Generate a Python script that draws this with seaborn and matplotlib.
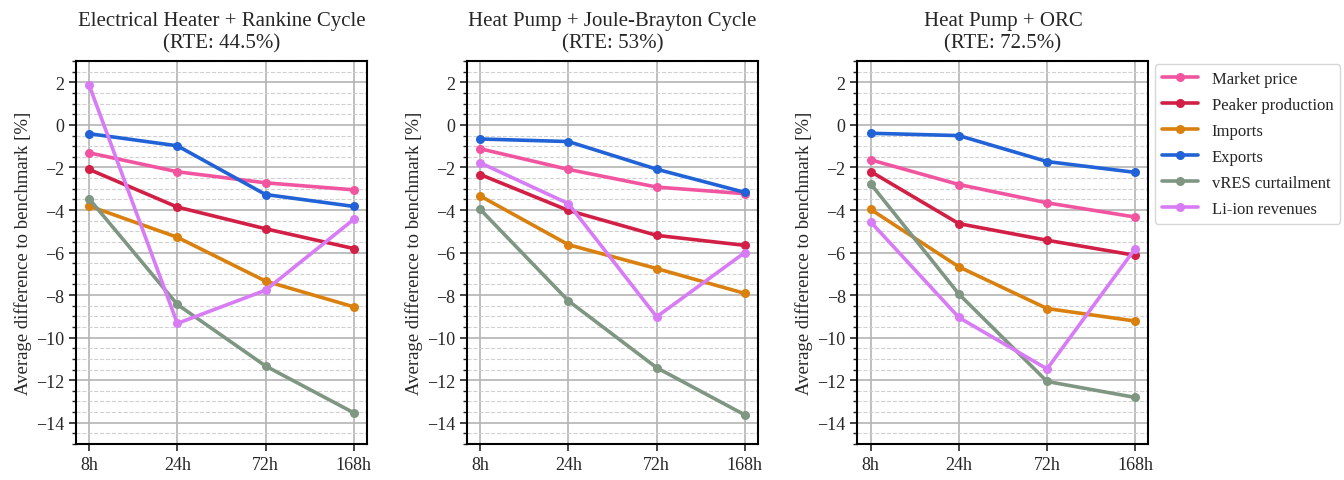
import matplotlib
matplotlib.use("Agg")
import matplotlib.pyplot as plt
import matplotlib.ticker as mticker
import seaborn as sns
import pandas as pd

# duraciones de almacenamiento
durations = ["8h", "24h", "72h", "168h"]
series_names = ["Market price", "Peaker production", "Imports", "Exports",
                "vRES curtailment", "Li-ion revenues"]
colors = ["#f2559f", "#d11f45", "#d9800f", "#2163d6", "#7f9683", "#d87cf6"]

titles = ["Electrical Heater + Rankine Cycle\n(RTE: 44.5%)",
          "Heat Pump + Joule-Brayton Cycle\n(RTE: 53%)",
          "Heat Pump + ORC\n(RTE: 72.5%)"]

# Electrical Heater + Rankine
eh_market = [-1.31, -2.20, -2.72, -3.05]
eh_peaker = [-2.09, -3.86, -4.88, -5.81]
eh_imports = [-3.81, -5.28, -7.34, -8.55]
eh_exports = [-0.41, -0.98, -3.27, -3.83]
eh_vres = [-3.47, -8.44, -11.33, -13.53]
eh_liion = [1.87, -9.33, -7.77, -4.44]

# Heat Pump + Joule-Brayton
jb_market = [-1.12, -2.09, -2.92, -3.23]
jb_peaker = [-2.33, -4.02, -5.19, -5.66]
jb_imports = [-3.34, -5.63, -6.75, -7.92]
jb_exports = [-0.66, -0.78, -2.08, -3.17]
jb_vres = [-3.97, -8.27, -11.41, -13.63]
jb_liion = [-1.78, -3.70, -9.02, -6.00]

# Heat Pump + ORC
orc_market = [-1.64, -2.80, -3.66, -4.33]
orc_peaker = [-2.19, -4.64, -5.42, -6.13]
orc_imports = [-3.97, -6.67, -8.63, -9.22]
orc_exports = [-0.39, -0.50, -1.72, -2.23]
orc_vres = [-2.77, -7.95, -12.06, -12.81]
orc_liion = [-4.56, -9.05, -11.47, -5.81]

panels = [
    [eh_market, eh_peaker, eh_imports, eh_exports, eh_vres, eh_liion],
    [jb_market, jb_peaker, jb_imports, jb_exports, jb_vres, jb_liion],
    [orc_market, orc_peaker, orc_imports, orc_exports, orc_vres, orc_liion],
]

sns.set_style("ticks")
plt.rcParams["font.family"] = ["Liberation Serif", "DejaVu Serif"]
plt.rcParams["axes.unicode_minus"] = True

fig = plt.figure(figsize=(13.44, 4.81), dpi=100)
lefts = [0.0565, 0.3475, 0.638]
palette = dict(zip(series_names, colors))

for i, vals in enumerate(panels):
    ax = fig.add_axes([lefts[i], 0.0748, 0.2165, 0.796])
    rows = []
    for name, v in zip(series_names, vals):
        for d, y in zip(durations, v):
            rows.append({"Duration": d, "Value": y, "Series": name})
    df = pd.DataFrame(rows)
    sns.lineplot(data=df, x="Duration", y="Value", hue="Series",
                 hue_order=series_names, palette=palette, marker="o",
                 markersize=6.5, markeredgewidth=0, linewidth=2.6,
                 errorbar=None, legend=False, ax=ax, zorder=3)
    ax.set_xlim(-0.15, 3.15)
    ax.set_ylim(-15, 3)
    ax.yaxis.set_major_locator(mticker.MultipleLocator(2))
    ax.yaxis.set_minor_locator(mticker.MultipleLocator(0.5))
    ax.grid(which="major", color="#b4b4b4", linewidth=1.2)
    ax.grid(which="minor", axis="y", color="#d0d0d0", linestyle="--", linewidth=0.8)
    ax.set_axisbelow(True)
    for sp in ax.spines.values():
        sp.set_visible(True)
        sp.set_linewidth(1.5)
        sp.set_color("black")
    ax.tick_params(which="major", labelsize=13, length=5, width=1.2)
    ax.tick_params(which="minor", length=3, width=1)
    ax.set_xlabel("")
    ax.set_ylabel("Average difference to benchmark [%]", fontsize=13.5, labelpad=3)
    ax.set_title(titles[i], fontsize=15, pad=10)
    if i == 2:
        handles = ax.lines[:len(series_names)]
        ax.legend(handles, series_names, loc="upper left",
                  bbox_to_anchor=(1.005, 1.005), fontsize=12, frameon=True,
                  handlelength=2.2, borderaxespad=0.3, labelspacing=0.6)

plt.savefig("out.png", dpi=100)
